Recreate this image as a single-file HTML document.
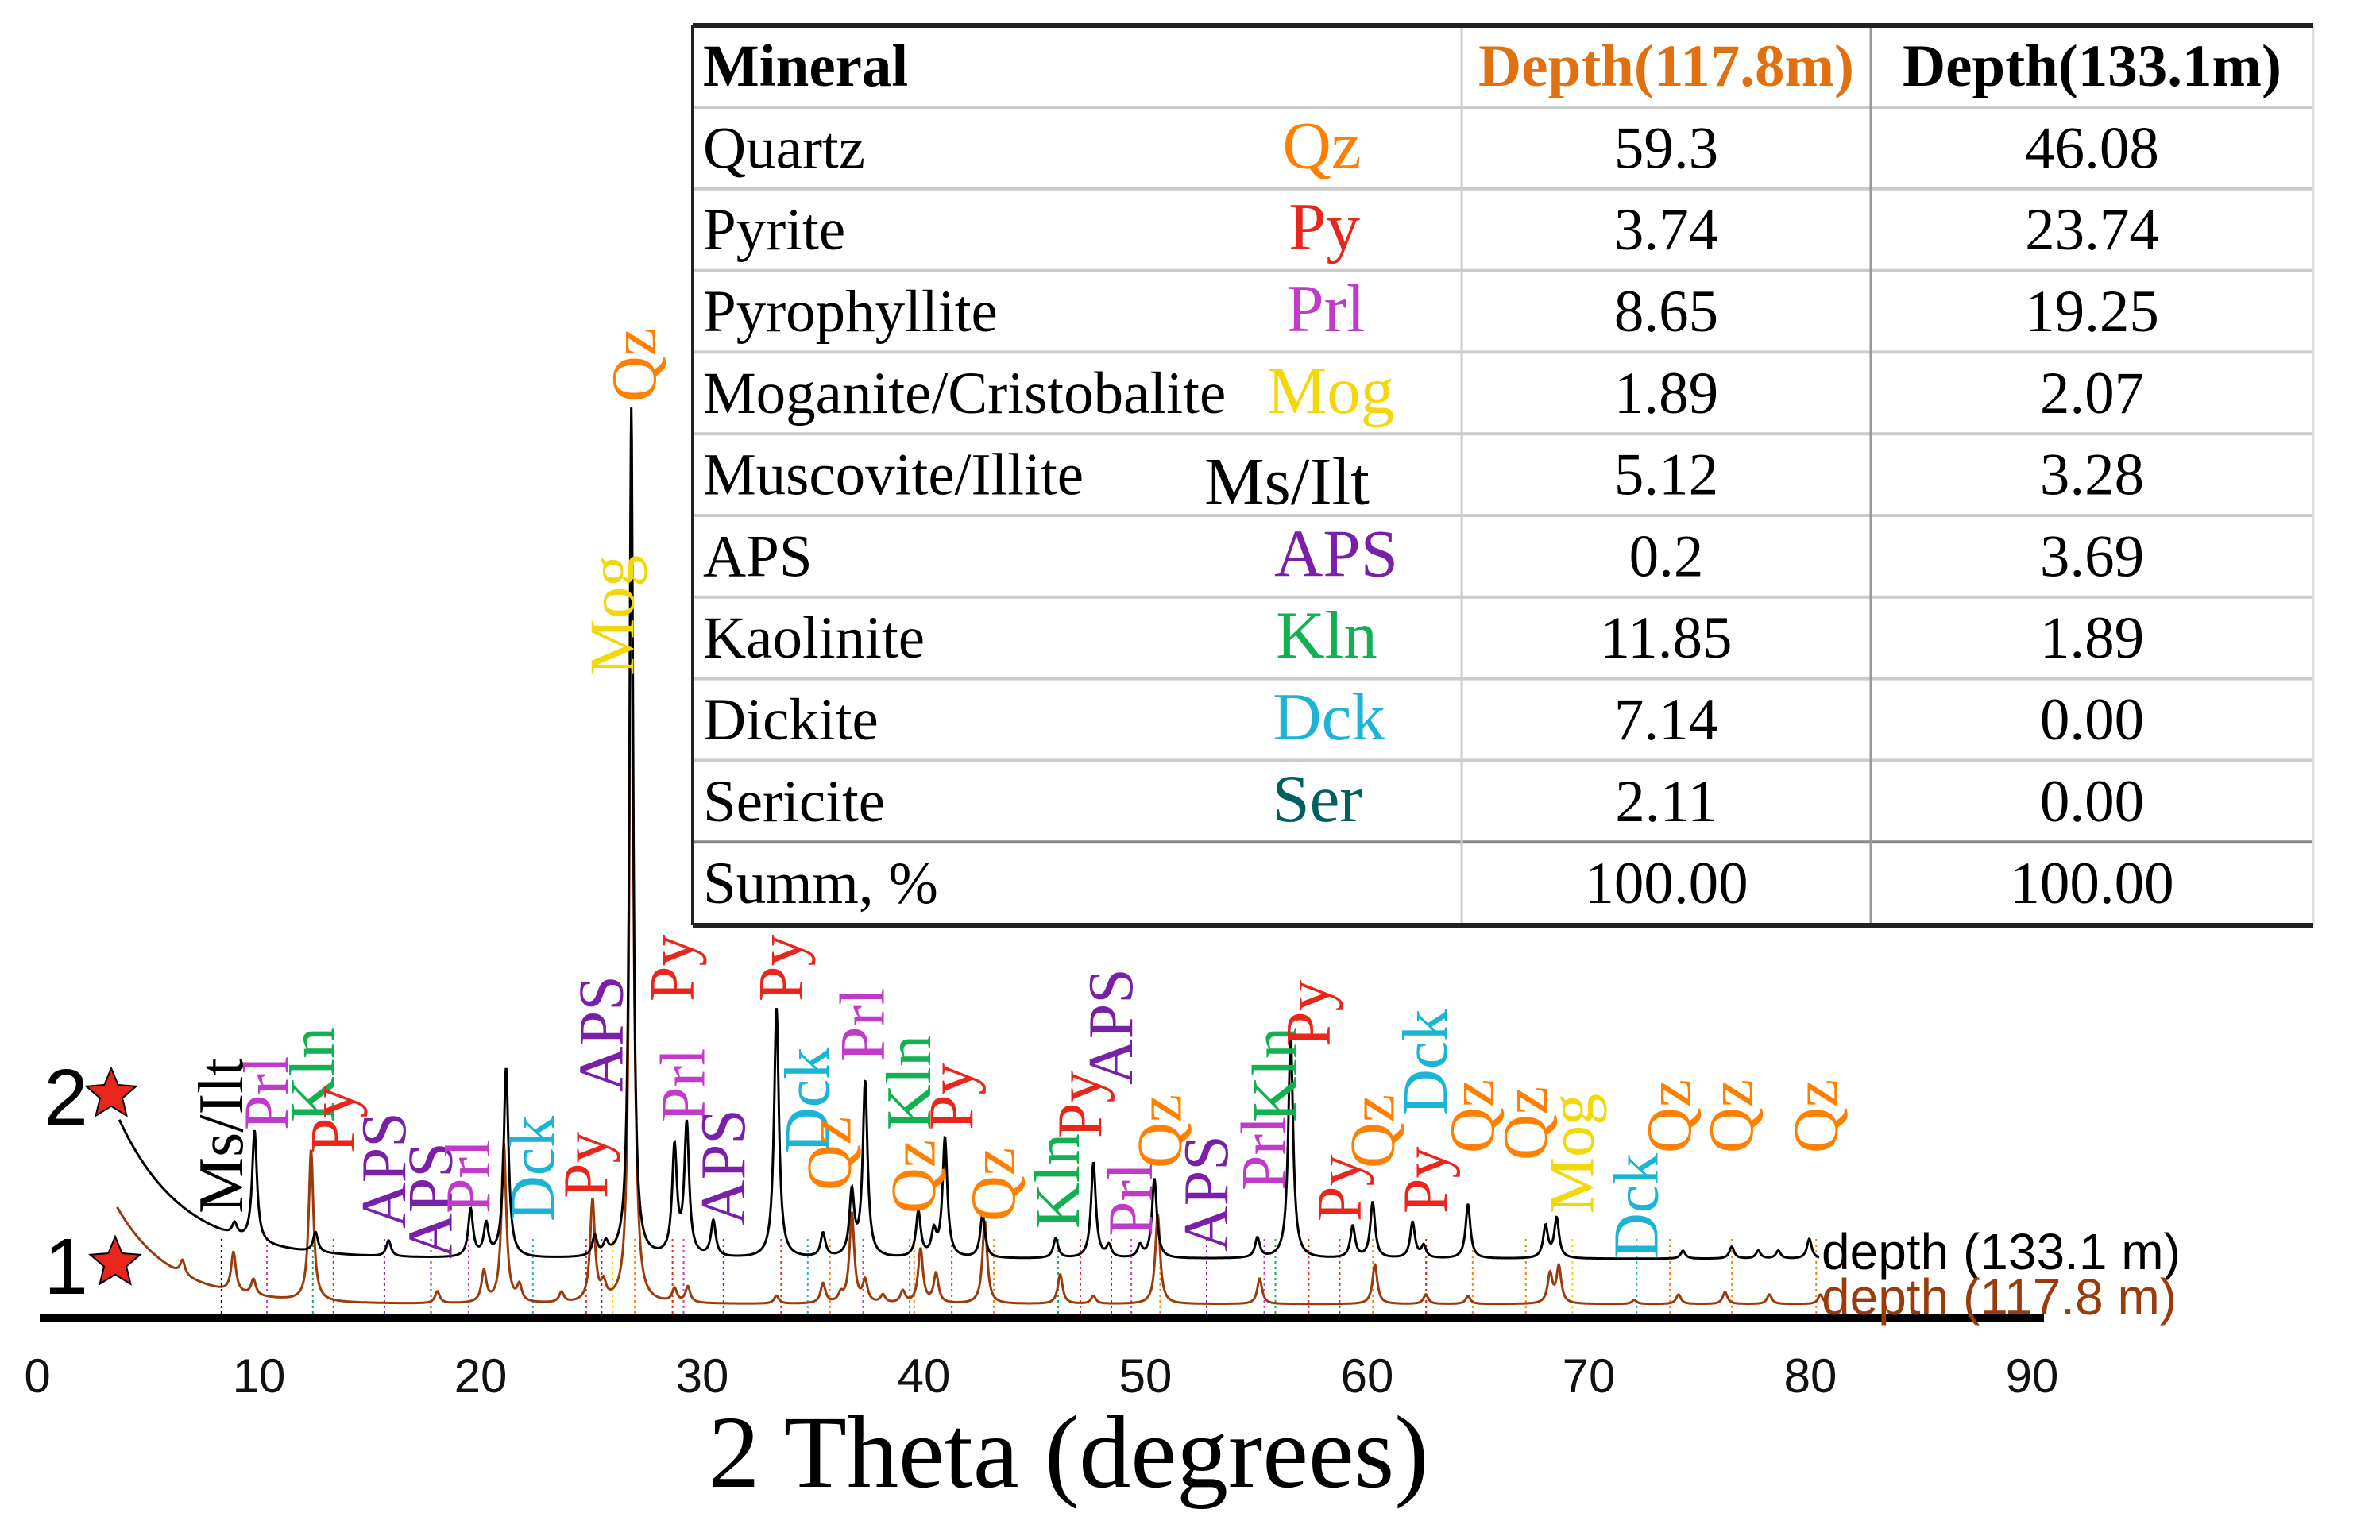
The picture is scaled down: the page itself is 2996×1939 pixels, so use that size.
<!DOCTYPE html>
<html><head><meta charset="utf-8"><title>XRD chart</title>
<style>html,body{margin:0;padding:0;background:#fff;width:2996px;height:1939px;overflow:hidden}svg{display:block}</style>
</head><body>
<svg id="chart" width="2996" height="1939" viewBox="0 0 2996 1939" xmlns="http://www.w3.org/2000/svg">
<g id="tableG"></g>
<g id="plotG"></g>
</svg>
<script>
// ---- data ----
const xTicks = [0,10,20,30,40,50,60,70,80,90];
const blackPeaksPos = [8.9,9.8,12.55,15.85,19.55,20.25,21.15,25.15,25.65,26.8,28.75,29.3,30.5,33.35,35.45,36.75,37.35,39.75,40.45,40.95,42.65,45.95,47.65,48.35,49.75,50.4,55.05,56.55,59.35,60.25,62.05,62.55,64.55,68.05,68.55,74.25,76.45,77.65,78.55,79.95];
const blackPeaksInt = [15,140,25,20,60,40,238,25,15,1070,135,165,45,315,30,80,220,57,30,150,55,25,120,15,15,100,25,282,40,70,45,15,68,40,50,10,15,10,10,25];
const brownPeaksPos = [6.55,8.85,9.75,12.35,18.05,20.15,21.05,21.75,23.65,25.05,25.55,26.8,27.0,28.75,29.35,33.35,35.45,36.25,36.75,37.35,38.15,39.05,39.85,40.55,42.75,46.15,47.65,50.55,55.15,60.35,62.65,64.55,68.25,68.65,72.05,74.05,76.15,78.15,80.45];
const brownPeaksInt = [18,50,20,190,15,39,200,20,13,128,20,1000,60,17,20,10,25,10,113,27,10,15,68,37,104,37,10,113,32,50,12,10,37,46,5,12,15,12,12];
const labelText = ["Ms/Ilt","Prl","Kln","Py","APS","APS","Prl","Dck","Py","APS","Mog","Qz","Py","Prl","APS","Py","Dck","Qz","Prl","Kln","Qz","Py","Qz","Kln","Py","APS","Prl","Qz","APS","Prl","Kln","Py","Py","Qz","Dck","Py","Qz","Qz","Mog","Dck","Qz","Qz","Qz"];
const labelPos = [8.31,10.36,12.43,13.36,15.66,17.76,19.46,22.36,24.76,25.46,25.96,26.96,28.66,29.16,30.96,33.56,34.76,35.76,37.26,39.36,39.56,41.26,43.16,46.06,47.06,48.46,49.36,50.66,52.76,55.36,55.86,57.36,58.76,60.26,62.66,62.66,64.76,67.16,69.26,72.16,73.66,76.46,80.26];
const labelLevel = [1528,1423,1413,1452,1547,1585,1528,1538,1509,1375,850,506,1261,1413,1543,1261,1452,1499,1337,1423,1528,1423,1538,1547,1433,1366,1557,1471,1576,1499,1413,1318,1538,1471,1404,1528,1452,1461,1528,1585,1452,1452,1452];
const tableMinerals = ["Quartz","Pyrite","Pyrophyllite","Moganite/Cristobalite","Muscovite/Illite","APS","Kaolinite","Dickite","Sericite"];
const tableAbbr = ["Qz","Py","Prl","Mog","Ms/Ilt","APS","Kln","Dck","Ser"];
const depth1178 = ["59.3","3.74","8.65","1.89","5.12","0.2","11.85","7.14","2.11"];
const depth1331 = ["46.08","23.74","19.25","2.07","3.28","3.69","1.89","0.00","0.00"];

const colors = {Qz:"#FF8000",Py:"#E8261C",Prl:"#C13BCB",APS:"#7A1FA8",Kln:"#12B050",Dck:"#1CB4D4",Mog:"#F2D70A","Ms/Ilt":"#000",Ser:"#005F5F"};
const abbrX = [1664,1667,1669,1675,1620,1682,1670,1673,1658];

const NS="http://www.w3.org/2000/svg";
function mk(tag,attrs,parent){const e=document.createElementNS(NS,tag);for(const k in attrs)e.setAttribute(k,attrs[k]);parent.appendChild(e);return e;}
const plot=document.getElementById('plotG');
const tbl=document.getElementById('tableG');

const X0=47, PX=27.9, AXY=1659;
function xs(d){return X0+d*PX;}
function ys(base,v){return base-v;}

function spectrum(pos,ints,base,bgA,bgK,start,end,w){
  let d="";
  for(let x=start;x<=end+1e-9;x+=0.02){
    let v=bgA*Math.exp(-(x-start)/bgK);
    for(let i=0;i<pos.length;i++){const ww=(ints[i]>500?0.1:w);const t=(x-pos[i])/ww;v+=ints[i]/(1+t*t);}
    d+=(d?"L":"M")+xs(x).toFixed(1)+","+ys(base,v).toFixed(1);
  }
  return d;
}
for(let i=0;i<labelText.length;i++){
  const l=mk('line',{x1:xs(labelPos[i]),x2:xs(labelPos[i]),y1:1560,y2:AXY,stroke:colors[labelText[i]],'stroke-width':2,'stroke-dasharray':'3 4'},plot);
  
  
}
const brown=mk('path',{d:spectrum(brownPeaksPos,brownPeaksInt,1642,122,2.5,3.6,80.7,0.13),fill:'none',stroke:'#9A3B0C','stroke-width':3},plot);


const black=mk('path',{d:spectrum(blackPeaksPos,blackPeaksInt,1585,175,2.9,3.7,80.4,0.13),fill:'none',stroke:'#000','stroke-width':3},plot);



const ax=mk('rect',{x:50,y:AXY-5,width:2523,height:10,fill:'#000'},plot);


xTicks.forEach(t=>{
  const e=mk('text',{x:xs(t),y:1753,'text-anchor':'middle','font-family':'"Liberation Sans Narrow","Liberation Sans",sans-serif','font-size':60,fill:'#111'},plot);
  e.textContent=t;
  
  
});
const xt=mk('text',{x:1345,y:1872,'text-anchor':'middle','font-family':'"Liberation Serif",serif','font-size':130,fill:'#000'},plot);
xt.textContent="2 Theta (degrees)";



[["depth (133.1 m)",1598,"#000","label-133-1m"],["depth (117.8 m)",1655,"#9A3B0C","label-117-8m"]].forEach(a=>{
  const e=mk('text',{x:2293,y:a[1],'font-family':'"Liberation Sans",sans-serif','font-size':64,fill:a[2]},plot);
  e.textContent=a[0];
  
  
});

for(let i=0;i<labelText.length;i++){
  const x=xs(labelPos[i]), y=labelLevel[i];
  const e=mk('text',{x:x,y:y,transform:`rotate(-90 ${x} ${y})`,'dominant-baseline':'central','font-family':'"Liberation Serif",serif','font-size':80,fill:colors[labelText[i]]},plot);
  e.textContent=labelText[i];
  
  
}

function star(cx,cy,r,name){
  let p=[];for(let k=0;k<10;k++){const a=-Math.PI/2+k*Math.PI/5;const rr=k%2?r*0.45:r;p.push((cx+rr*Math.cos(a)).toFixed(1)+","+(cy+rr*Math.sin(a)).toFixed(1));}
  const s=mk('polygon',{points:p.join(" "),fill:'#E8261C',stroke:'#000','stroke-width':2},plot);
  
  
}
[["2",1380,140,"sample-2",1378],["1",1593,145,"sample-1",1590]].forEach(a=>{
  const e=mk('text',{x:83,y:a[1]+36,'text-anchor':'middle','font-family':'"Liberation Sans",sans-serif','font-size':100,fill:'#000'},plot);
  e.textContent=a[0];
  
  
  star(a[2],a[4],33,a[3]+'-star');
});

const TL=872,TR=2912,C1=1840,C2=2355,TT=32,HB=135,RH=102.8,SB=1165;
mk('rect',{x:TL,y:TT,width:TR-TL,height:SB-TT,fill:'#fff',stroke:'none'},tbl);
for(let k=1;k<=9;k++){const y=HB+RH*k;mk('line',{x1:TL,x2:TR,y1:y,y2:y,stroke:k==9?'#888':'#ccc','stroke-width':4},tbl);}
mk('line',{x1:TL,x2:TR,y1:HB,y2:HB,stroke:'#ccc','stroke-width':4},tbl);
mk('line',{x1:C1,x2:C1,y1:TT,y2:SB,stroke:'#ccc','stroke-width':3},tbl);
mk('line',{x1:C2,x2:C2,y1:TT,y2:SB,stroke:'#999','stroke-width':3},tbl);
mk('line',{x1:TR,x2:TR,y1:TT,y2:SB,stroke:'#ddd','stroke-width':3},tbl);
mk('line',{x1:TL,x2:TL,y1:TT,y2:SB,stroke:'#222','stroke-width':4},tbl);
mk('line',{x1:TL,x2:TR,y1:TT,y2:TT,stroke:'#222','stroke-width':6},tbl);
mk('line',{x1:TL,x2:TR,y1:SB,y2:SB,stroke:'#222','stroke-width':6},tbl);
const SF='"Liberation Serif",serif';
function tx(str,x,y,opts,name){const e=mk('text',Object.assign({x:x,y:y,'font-family':SF,'font-size':75,fill:'#000'},opts||{}),tbl);e.textContent=str;return e;}
tx("Mineral",885,108,{'font-weight':'bold'},'header-mineral');
tx("Depth(117.8m)",(C1+C2)/2,108,{'font-weight':'bold','text-anchor':'middle',fill:'#E07010'},'header-depth-117-8');
tx("Depth(133.1m)",(C2+TR)/2,108,{'font-weight':'bold','text-anchor':'middle'},'header-depth-133-1');
for(let i=0;i<9;i++){
  const yb=HB+RH*i+RH/2+25;
  tx(tableMinerals[i],885,yb,{},'mineral-name');
  const ab=tableAbbr[i];
  tx(ab,abbrX[i],ab=="Ms/Ilt"?yb+12:yb,{'font-size':85,'text-anchor':'middle',fill:colors[ab]},'mineral-abbr');
  tx(depth1178[i],(C1+C2)/2,yb,{'text-anchor':'middle'},'value-117-8');
  tx(depth1331[i],(C2+TR)/2,yb,{'text-anchor':'middle'},'value-133-1');
}
tx("Summ, %",885,1137,{},'summ-label');
tx("100.00",(C1+C2)/2,1137,{'text-anchor':'middle'},'summ-117-8');
tx("100.00",(C2+TR)/2,1137,{'text-anchor':'middle'},'summ-133-1');
</script>
</body></html>
